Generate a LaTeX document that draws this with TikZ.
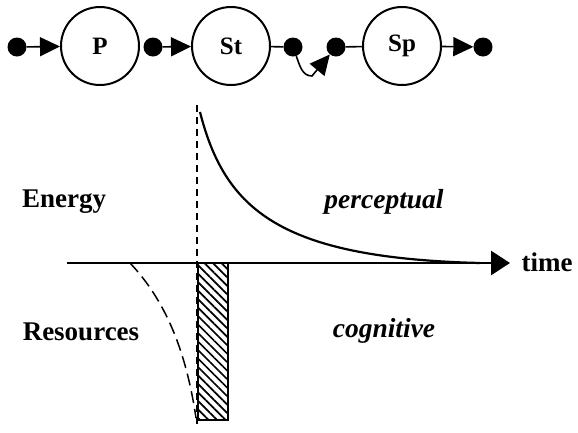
\documentclass[tikz,border=0pt]{standalone}
\usepackage{fontspec}
\setmainfont{Liberation Serif}
\usepackage{tikz}
\usetikzlibrary{arrows.meta,positioning,patterns.meta}

\begin{document}
\begin{tikzpicture}[x=1pt,y=-1pt,
  stage/.style={draw,circle,line width=2pt,minimum size=78pt,inner sep=0pt,
    font=\fontsize{25}{28}\selectfont\bfseries},
  dot/.style={circle,fill=black,minimum size=19pt,inner sep=0pt},
  lbl/.style={font=\fontsize{27}{31}\selectfont\bfseries},
  ilbl/.style={font=\fontsize{27.5}{31}\selectfont\bfseries\itshape},
  flow/.style={line width=1.6pt,-{Triangle[length=20pt,width=19pt]}},
  >=Stealth
]
\useasboundingbox (0,0) rectangle (578,432);
% chain of stages
\node[stage] (p)  at (100,46) {P};
\node[stage] (st) at (231,46) {St};
\node[stage] (sp) at (402,46) {Sp};
\node[dot] (d1) at ( 17,47) {};
\node[dot] (d2) at (153,47) {};
\node[dot] (d3) at (293,47) {};
\node[dot] (d4) at (336,47) {};
\node[dot] (d5) at (483,47) {};
\coordinate (bend) at (312,76);
\foreach \a/\b in {d1/p,d2/st,sp/d5}
  \draw[flow] (\a) -- (\b);
\draw[line width=1.6pt] (st) -- (d3);
\draw[line width=1.6pt] (d4) -- (sp);
\draw[flow] (d3) to[out=-70,in=180] (bend) -- (d4);
% time axis
\coordinate (t0) at (67,263);
\coordinate (t1) at (510,263);
\coordinate (ontop) at (197,105);
\coordinate (onbot) at (197,428);
\draw[line width=2.8pt,-{Triangle[length=19pt,width=24pt]}] (t0) -- (t1);
\node[lbl,anchor=west] (time) at (518,262) {time};
% resources block
\coordinate (blk0) at (198,263);
\coordinate (blk1) at (228,420);
\fill[pattern={Lines[angle=-45,distance=6pt,line width=1.7pt]}]
  (blk0) rectangle (blk1);
\draw[line width=2pt] (blk0) rectangle (blk1);
\draw[line width=1.5pt,dash pattern=on 7pt off 5pt] (ontop) -- (onbot);
% curves
\coordinate (e0) at (200,112);
\coordinate (e1) at (480,263);
\draw[line width=2.2pt] (e0) .. controls (225,210) and (280,258) .. (e1);
\coordinate (r0) at (130,263);
\coordinate (r1) at (196,418);
\draw[line width=1.5pt,dash pattern=on 12pt off 6pt]
  (r0) .. controls (165,300) and (186,350) .. (r1);
% labels
\node[lbl]  (energy) at (64,202)  {Energy};
\node[ilbl] (perc)   at (384,202) {perceptual};
\node[lbl]  (res)    at (81,332)  {Resources};
\node[ilbl] (cog)    at (384,331) {cognitive};
\end{tikzpicture}
\end{document}
